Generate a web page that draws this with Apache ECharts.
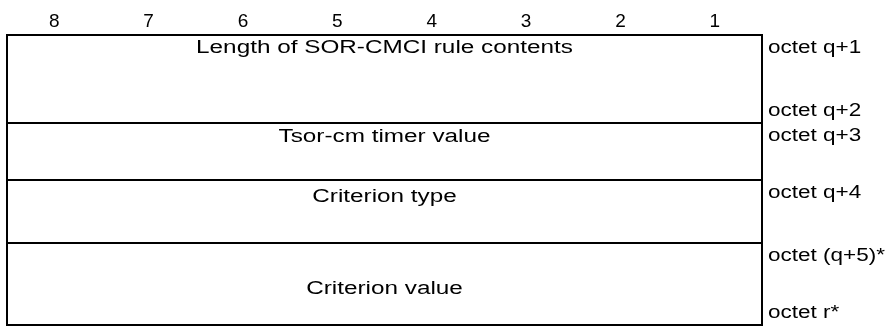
<!DOCTYPE html>
<html>
<head>
<meta charset="utf-8">
<script src="https://cdn.jsdelivr.net/npm/echarts@6/dist/echarts.min.js"></script>
<style>
  html, body { margin: 0; padding: 0; background: #fff; }
  #chart { width: 892px; height: 327px; }
</style>
</head>
<body>
<div id="chart"></div>
<script>
// ---- data ----
const bits = ['8', '7', '6', '5', '4', '3', '2', '1'];
const fieldNames = ['Length of SOR-CMCI rule contents', 'Tsor-cm timer value', 'Criterion type', 'Criterion value'];
const fieldOctets = [['octet q+1', 'octet q+2'], ['octet q+3'], ['octet q+4'], ['octet (q+5)*', 'octet r*']];
const fieldHeights = [88, 57, 63, 82];

// ---- layout / style (not data) ----
const FONT = '18px "Liberation Sans", Arial, sans-serif';
const SX_NAME = 1.35;
const SX_OCT = 1.25;
const nameOffset = [13, 14, 17, null]; // null => vertically centred (+shift)
const midShift = 5;

const rows = [];
let acc = 0;
fieldHeights.forEach((h, i) => { rows.push([acc, acc + h, i]); acc += h; });
const total = acc;

const chart = echarts.init(document.getElementById('chart'), null, { renderer: 'canvas' });
chart.setOption({
  animation: false,
  backgroundColor: '#fff',
  grid: { left: 7, right: 130, top: 35, bottom: 2, outerBoundsMode: 'none' },
  xAxis: [
    {
      type: 'category', data: bits, position: 'top',
      axisLine: { show: false }, axisTick: { show: false }, splitLine: { show: false },
      axisLabel: { fontSize: 19, color: '#000', margin: 4, fontFamily: 'Liberation Sans' }
    },
    { type: 'value', min: 0, max: 8, show: false }
  ],
  yAxis: { type: 'value', inverse: true, min: 0, max: total, show: false },
  series: [{
    type: 'custom',
    xAxisIndex: 1,
    yAxisIndex: 0,
    data: rows,
    renderItem: function (params, api) {
      const i = api.value(2);
      const p0 = api.coord([0, api.value(0)]);
      const p1 = api.coord([8, api.value(1)]);
      const cx = (p0[0] + p1[0]) / 2;
      const top = p0[1], bottom = p1[1];
      const children = [{
        type: 'rect',
        shape: { x: p0[0], y: top, width: p1[0] - p0[0], height: bottom - top },
        style: { fill: null, stroke: '#000', lineWidth: 2 }
      }];
      const ny = nameOffset[i] == null ? (top + bottom) / 2 + midShift : top + nameOffset[i];
      children.push({
        type: 'text', x: cx, y: ny, scaleX: SX_NAME,
        style: { text: fieldNames[i], font: FONT, fill: '#000', align: 'center', verticalAlign: 'middle' }
      });
      const oct = fieldOctets[i];
      oct.forEach((t, k) => {
        const y = k === 0 ? top + 13 : bottom - 12;
        children.push({
          type: 'text', x: p1[0] + 6, y: y, scaleX: SX_OCT,
          style: { text: t, font: FONT, fill: '#000', align: 'left', verticalAlign: 'middle' }
        });
      });
      return { type: 'group', children: children };
    }
  }]
});
</script>
</body>
</html>
